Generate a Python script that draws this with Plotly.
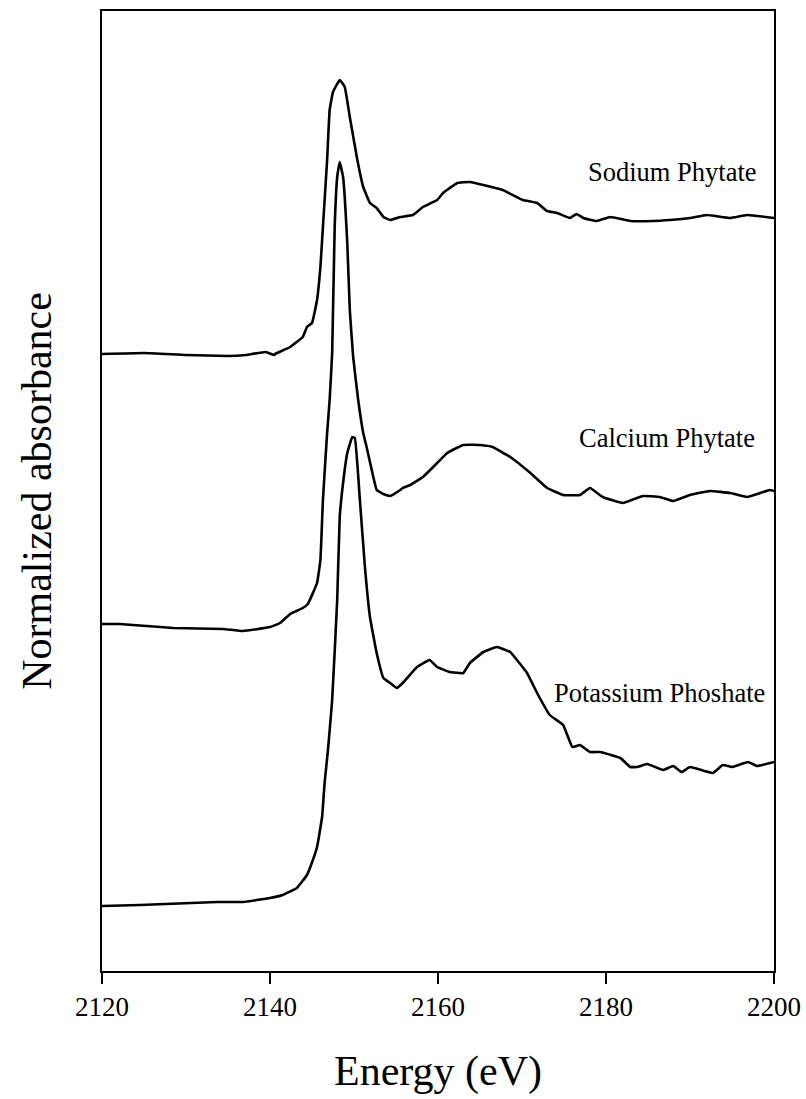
import plotly.graph_objects as go

# Sodium Phytate
na_e = [2120.0, 2125.0, 2130.0, 2135.0, 2137.1, 2139.5, 2140.5, 2140.6, 2142.4, 2143.9, 2144.4, 2145.0,
        2145.6, 2146.0, 2146.3, 2146.8, 2147.1, 2147.5, 2148.3, 2148.9, 2149.5, 2150.4, 2151.1, 2151.9,
        2152.7, 2153.5, 2154.3, 2155.5, 2157.0, 2158.2, 2159.9, 2160.6, 2161.4, 2162.3, 2163.8, 2165.4,
        2167.7, 2170.1, 2171.8, 2173.0, 2174.2, 2175.7, 2176.5, 2177.3, 2178.9, 2180.5, 2182.9, 2185.6,
        2187.6, 2190.0, 2192.0, 2194.8, 2196.8, 2200.0]
na_y = [6.17, 6.18, 6.16, 6.15, 6.16, 6.19, 6.16, 6.17, 6.24, 6.34, 6.44, 6.48,
        6.71, 7.04, 7.44, 8.11, 8.61, 8.79, 8.91, 8.84, 8.54, 8.11, 7.84, 7.68,
        7.63, 7.54, 7.51, 7.54, 7.56, 7.64, 7.71, 7.78, 7.83, 7.88, 7.89, 7.86,
        7.81, 7.71, 7.68, 7.60, 7.58, 7.53, 7.57, 7.53, 7.50, 7.54, 7.50, 7.50,
        7.51, 7.53, 7.56, 7.53, 7.56, 7.53]

# Calcium Phytate
ca_e = [2120.0, 2122.1, 2128.5, 2134.4, 2136.8, 2140.0, 2141.2, 2142.4, 2143.9, 2144.5, 2145.6, 2146.0,
        2146.3, 2146.8, 2147.1, 2147.4, 2147.7, 2148.0, 2148.3, 2148.7, 2149.2, 2149.5, 2149.9, 2150.5,
        2151.1, 2151.5, 2152.3, 2152.7, 2153.5, 2154.3, 2155.5, 2155.8, 2156.7, 2158.2, 2159.9, 2161.1,
        2163.0, 2165.0, 2166.5, 2168.6, 2171.0, 2173.0, 2174.9, 2176.9, 2178.1, 2179.6, 2182.0, 2184.4,
        2186.4, 2188.0, 2190.0, 2192.4, 2194.8, 2196.8, 2199.5, 2200.0]
ca_y = [3.47, 3.47, 3.43, 3.42, 3.40, 3.44, 3.48, 3.57, 3.63, 3.67, 3.88, 4.11,
        4.71, 5.38, 5.71, 6.18, 7.44, 7.94, 8.09, 7.94, 7.28, 6.61, 6.14, 5.71,
        5.38, 5.24, 4.94, 4.81, 4.77, 4.75, 4.81, 4.83, 4.86, 4.94, 5.08, 5.18,
        5.26, 5.26, 5.24, 5.14, 4.98, 4.83, 4.76, 4.76, 4.83, 4.74, 4.68, 4.75,
        4.74, 4.70, 4.76, 4.80, 4.78, 4.74, 4.81, 4.80]

# Potassium Phosphate
k_e = [2120.0, 2124.5, 2133.7, 2136.8, 2140.0, 2141.5, 2143.2, 2144.4, 2144.8, 2145.6, 2146.2, 2146.5,
       2146.9, 2147.4, 2148.0, 2148.3, 2148.7, 2149.2, 2149.8, 2150.1, 2150.7, 2151.3, 2151.9, 2152.7,
       2153.5, 2154.3, 2155.1, 2155.8, 2157.5, 2159.0, 2159.9, 2161.4, 2163.0, 2163.8, 2165.4, 2167.0,
       2168.6, 2169.4, 2170.6, 2171.8, 2173.3, 2174.9, 2176.0, 2176.9, 2178.1, 2179.3, 2181.7, 2182.9,
       2183.7, 2184.9, 2186.8, 2188.0, 2189.0, 2190.0, 2192.7, 2193.9, 2195.0, 2196.9, 2198.0, 2200.0]
k_y = [0.65, 0.66, 0.69, 0.69, 0.73, 0.76, 0.83, 0.96, 1.04, 1.24, 1.54, 1.88,
       2.21, 2.71, 3.71, 4.54, 4.88, 5.18, 5.34, 5.33, 4.71, 4.04, 3.54, 3.18,
       2.93, 2.88, 2.83, 2.88, 3.04, 3.11, 3.04, 2.99, 2.98, 3.08, 3.19, 3.24,
       3.19, 3.11, 2.98, 2.78, 2.56, 2.46, 2.24, 2.26, 2.19, 2.19, 2.13, 2.04,
       2.04, 2.07, 2.01, 2.05, 1.99, 2.04, 1.98, 2.06, 2.04, 2.09, 2.05, 2.09]

labels = ["Sodium Phytate", "Calcium Phytate", "Potassium Phoshate"]
label_x = [2198.2, 2198.0, 2199.2]
label_y = [7.99, 5.33, 2.78]

x_ticks = [2120, 2140, 2160, 2180, 2200]

fig = go.Figure()
for e, y in [(na_e, na_y), (ca_e, ca_y), (k_e, k_y)]:
    fig.add_trace(go.Scatter(x=e, y=y, mode="lines",
                             line=dict(color="black", width=2.6, shape="spline", smoothing=0.3),
                             showlegend=False))

for t, lx, ly in zip(labels, label_x, label_y):
    fig.add_annotation(x=lx, y=ly, text=t, showarrow=False, xanchor="right", yanchor="middle",
                       font=dict(family="Liberation Serif", size=26.5, color="black"))

fig.update_layout(
    width=806, height=1099,
    margin=dict(l=102, r=32, t=11, b=128, autoexpand=False),
    paper_bgcolor="white", plot_bgcolor="white",
    font=dict(family="Liberation Serif", color="black"),
)
fig.update_xaxes(range=[2120, 2200], tickvals=x_ticks, ticks="outside", ticklen=11, tickwidth=1.5,
                 tickcolor="black", showline=True, linecolor="black", linewidth=1.5, mirror=True,
                 showgrid=False, zeroline=False, automargin=False,
                 tickfont=dict(size=27, family="Liberation Serif"),
                 title=dict(text="Energy (eV)", font=dict(size=42, family="Liberation Serif"), standoff=34))
fig.update_yaxes(range=[0, 9.6], showticklabels=False, ticks="", showline=True, linecolor="black",
                 linewidth=1.5, mirror=True, showgrid=False, zeroline=False, automargin=False,
                 title=dict(text="Normalized absorbance", font=dict(size=42, family="Liberation Serif"),
                            standoff=36))

fig.write_html("out.html")
